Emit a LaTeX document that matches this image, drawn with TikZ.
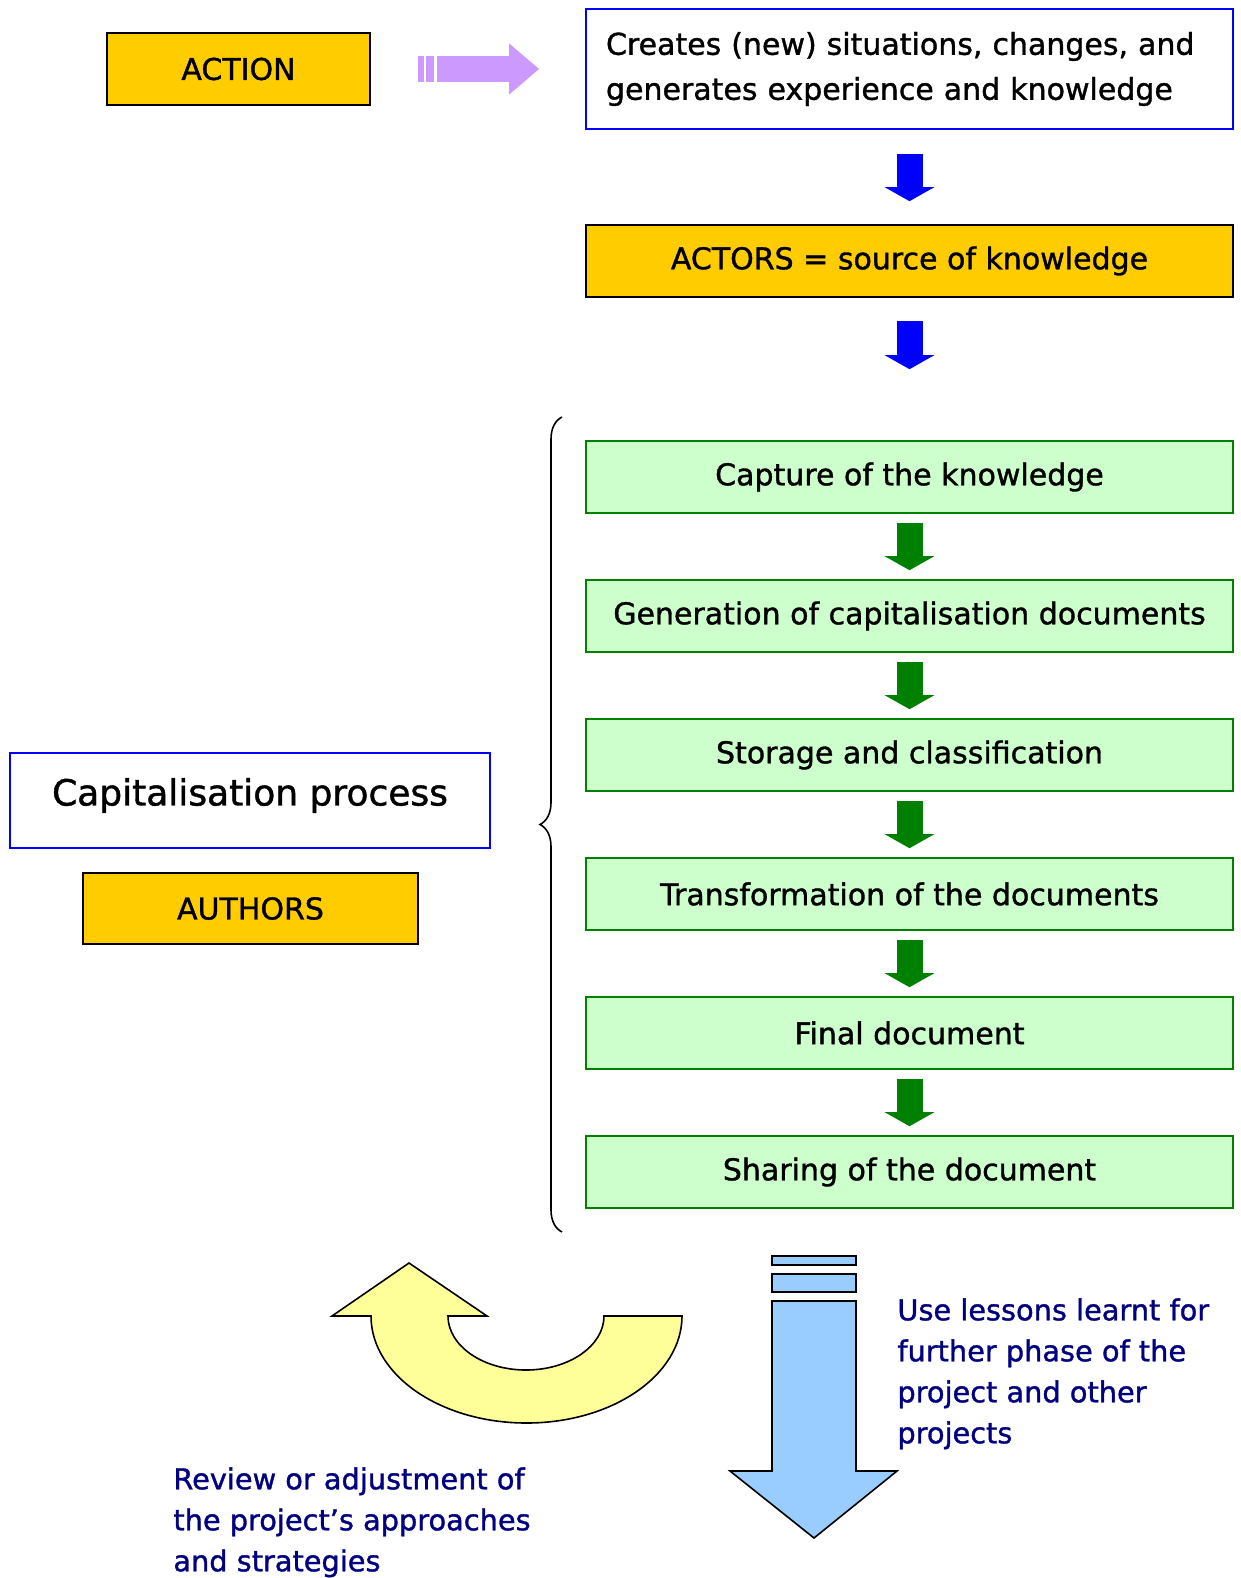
\documentclass[tikz,border=0pt]{standalone}
\usepackage{fontspec}
\setmainfont[FakeBold=1.2]{DejaVu Sans}
\usetikzlibrary{arrows.meta,decorations.pathreplacing}
\definecolor{gold}{HTML}{FFCC00}
\definecolor{paleGreen}{HTML}{CCFFCC}
\definecolor{darkGreen}{HTML}{008000}
\definecolor{lilac}{HTML}{CC99FF}
\definecolor{skyBlue}{HTML}{99CCFF}
\definecolor{paleYellow}{HTML}{FFFF99}
\definecolor{navyText}{HTML}{000080}
\tikzstyle{box}=[draw, line width=0.8pt, minimum width=323.5pt, minimum height=36pt, inner sep=0pt, font=\fontsize{15}{22.5}\selectfont]
\tikzstyle{goldbox}=[box, fill=gold, draw=black]
\tikzstyle{stepbox}=[box, fill=paleGreen, draw=darkGreen]
\tikzstyle{blueframe}=[box, fill=white, draw=blue]
\tikzstyle{blockarrow}=[line width=13pt, -{Triangle[length=7pt,width=24.5pt]}, shorten <=4.5pt, shorten >=4.5pt]
\tikzstyle{navynote}=[text=navyText, align=left, anchor=north west, inner sep=0pt, font=\fontsize{14.4}{20.5}\selectfont]
\tikzstyle{bigshape}=[draw=black, line width=0.8pt, line join=miter]

\begin{document}
\begin{tikzpicture}[x=0.5pt, y=-0.5pt]
			\useasboundingbox (0,0) rectangle (1241,1578);

			\node[goldbox, minimum width=131.5pt] (action) at (238.5, 69) {ACTION};
			\node[blueframe, text width=303.5pt, inner xsep=10pt, minimum height=60pt, align=left] (result) at (909.5, 69)
				{Creates (new) situations, changes, and\\generates experience and knowledge};
			\node[goldbox] (actors) at (909.5, 261) {ACTORS = source of knowledge};

			\node[stepbox] (s1) at (909.5, 477) {Capture of the knowledge};
			\node[stepbox] (s2) at (909.5, 616) {Generation of capitalisation documents};
			\node[stepbox] (s3) at (909.5, 755) {Storage and classification};
			\node[stepbox] (s4) at (909.5, 894) {Transformation of the documents};
			\node[stepbox] (s5) at (909.5, 1033) {Final document};
			\node[stepbox] (s6) at (909.5, 1172) {Sharing of the document};

			\node[blueframe, minimum width=240pt, minimum height=47.5pt, text depth=8.7pt, font=\fontsize{18}{22}\selectfont] (process) at (250, 800.5) {Capitalisation process};
			\node[goldbox, minimum width=167.5pt, minimum height=35.5pt] (authors) at (250.5, 908.5) {AUTHORS};

			\coordinate (bracebot) at (562, 1232);
			\coordinate (bracetop) at (562, 417);

			% Top arrows
			\draw[blockarrow, lilac, shorten <=23.5pt, shorten >=23pt, -{Triangle[length=15pt,width=24.5pt]},
				dash pattern=on 3pt off 1pt on 4pt off 1.5pt on 300pt off 1pt] (action)edge(result);
			\draw[blockarrow, blue, shorten <=12pt, shorten >=11.5pt] (result)edge(actors);
			\draw[blockarrow, blue, shorten <=11.5pt, shorten >=35.5pt] (actors)edge(s1);
			% Steps
			\draw[blockarrow, darkGreen] (s1)edge(s2) (s2)edge(s3) (s3)edge(s4) (s4)edge(s5) (s5)edge(s6);
			% Brace
			\draw[decorate, decoration={brace, amplitude=11pt}, line width=0.8pt] (bracebot) -- (bracetop);

			% Curved arrow
			\draw[bigshape, fill=paleYellow] (682, 1316) -- (604, 1316)
				arc[start angle=0, end angle=-180, x radius=39pt, y radius=27pt]
				-- (487, 1316) -- (409, 1263) -- (332, 1316) -- (371, 1316)
				arc[start angle=180, end angle=360, x radius=77.75pt, y radius=53.5pt] -- cycle;
			% Down arrow
			\draw[bigshape, fill=skyBlue] (772, 1256) rectangle (856, 1265);
			\draw[bigshape, fill=skyBlue] (772, 1274) rectangle (856, 1292);
			\draw[bigshape, fill=skyBlue] (772, 1301) -- (856, 1301) -- (856, 1471) -- (897, 1471)
				-- (814, 1538) -- (730, 1471) -- (772, 1471) -- cycle;

			\node[navynote] (uselessons) at (897, 1298) {Use lessons learnt for\\further phase of the\\project and other\\projects};
			\node[navynote] (review) at (173, 1467) {Review or adjustment of\\the project’s approaches\\and strategies};
		\end{tikzpicture}
\end{document}
